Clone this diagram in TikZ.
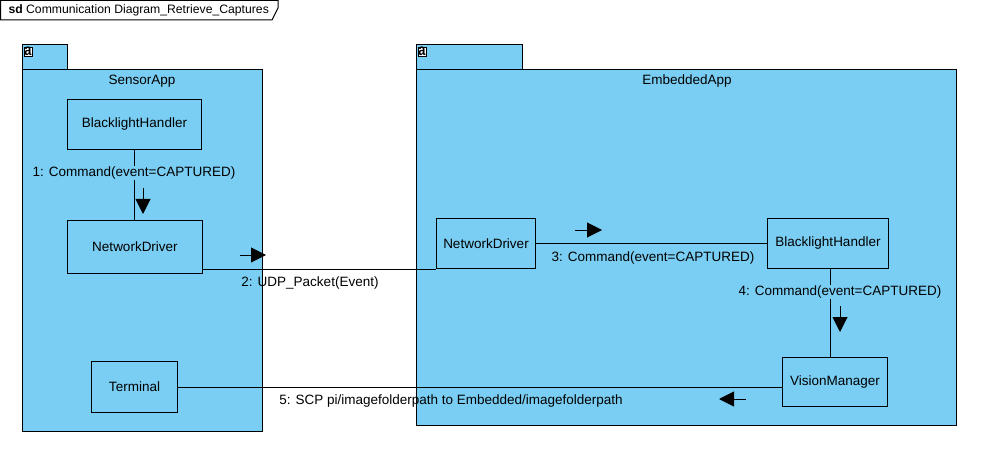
\documentclass[tikz,border=0pt]{standalone}
\usepackage{fontspec}
\setmainfont{Liberation Sans}
\usetikzlibrary{arrows.meta,calc}
\definecolor{umlblue}{RGB}{122,206,243}
\tikzset{
  pkg/.style={draw,fill=umlblue,line width=1pt},
  obj/.style={draw,fill=umlblue,line width=1pt,anchor=north west,inner sep=0pt,
    font=\fontsize{13.5}{16}\selectfont},
  lbl/.style={inner sep=1pt,font=\fontsize{13.5}{16}\selectfont},
  link/.style={line width=1pt},
  msg/.style={line width=1pt,-{Triangle[length=15pt,width=15pt]}},
  icon/.style={draw,line width=0.5pt,fill=white,inner xsep=0.3pt,inner ysep=0pt,anchor=north west,
    xscale=0.8,font=\bfseries\fontsize{16}{16}\selectfont}
}
\begin{document}
\begin{tikzpicture}[x=1pt,y=-1pt]
  \useasboundingbox (0,0) rectangle (982,449);
  % frame tab
  \draw[line width=1pt] (0.5,0.5)--(278,0.5)--(278,8)--(272,20)--(0.5,20)--cycle;
  \node[anchor=west,font=\fontsize{12.2}{14}\selectfont] (title) at (5,10.5) {\textbf{sd} Communication Diagram\_Retrieve\_Captures};

  % packages
  \draw[pkg] (22,45) rectangle (67,70); \draw[pkg] (22,70) rectangle (262,431);
  \draw[pkg] (416,45) rectangle (522,70); \draw[pkg] (416,70) rectangle (956,425);
  \node[icon] (iconS) at (24,47) {a};
  \node[icon] (iconE) at (418,47) {a};
  \node[lbl] (sensor) at (142,81) {SensorApp};
  \node[lbl] (embedded) at (687,81) {EmbeddedApp};

  % objects
  \node[obj,minimum width=134,minimum height=50] (bhL) at (67,99) {BlacklightHandler};
  \node[obj,minimum width=135,minimum height=53] (ndL) at (67,220) {NetworkDriver};
  \node[obj,minimum width=86,minimum height=51] (term) at (91,361) {Terminal};
  \node[obj,minimum width=99,minimum height=50] (ndR) at (436,218) {NetworkDriver};
  \node[obj,minimum width=121,minimum height=50] (bhR) at (767,218) {BlacklightHandler};
  \node[obj,minimum width=105,minimum height=49] (vm) at (782,357) {VisionManager};

  % links
  \draw[link] (bhL.south) -- (bhL.south |- ndL.north);
  \draw[link] (ndL.east |- ndR.south) -- (ndR.south west);
  \draw[link] (ndR.east) -- (bhR.west);
  \draw[link] (bhR.south -| 830,0) -- (vm.north -| 830,0);
  \draw[link] (term.east) -- (term.east -| vm.west);

  % messages
  \node[lbl,fill=umlblue] (l1) at (134,173) {1: Command(event=CAPTURED)};
  \draw[msg] (143,188) -- (143,214);
  \node[lbl] (l2) at (310,283) {2: UDP\_Packet(Event)};
  \draw[msg] (240,255) -- (266,255);
  \node[lbl] (l3) at (653,258) {3: Command(event=CAPTURED)};
  \draw[msg] (575,230) -- (602,230);
  \node[lbl,fill=umlblue] (l4) at (840,292) {4: Command(event=CAPTURED)};
  \draw[msg] (840,306) -- (840,332);
  \node[lbl] (l5) at (451,401) {5: SCP pi/imagefolderpath to Embedded/imagefolderpath};
  \draw[msg] (746,399) -- (719,399);
\end{tikzpicture}
\end{document}
